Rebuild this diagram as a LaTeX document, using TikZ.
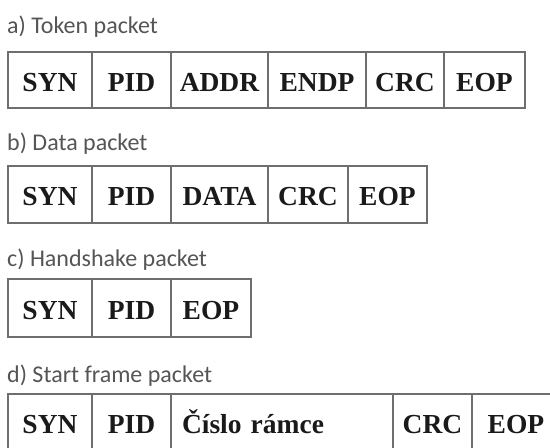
\documentclass[tikz,border=0pt]{standalone}
\usepackage{fontspec}
\setmainfont{Liberation Serif}
\newfontfamily\titlefont{Carlito}
\definecolor{boxline}{HTML}{6E6E6E}
\definecolor{titlegray}{HTML}{555555}
\definecolor{celltext}{HTML}{1A1A1A}
\tikzset{
  cell/.style={draw=boxline, line width=1.3pt, rectangle, inner sep=0pt, outer sep=0pt,
    anchor=north west, text=celltext, font=\fontsize{27.5}{31}\selectfont\bfseries,
    text height=22pt, text depth=0pt},
  ptitle/.style={anchor=base west, inner sep=0pt, text=titlegray, font=\titlefont\fontsize{24}{28}\selectfont}
}
\begin{document}
\begin{tikzpicture}[x=1pt,y=-1pt]
\useasboundingbox (0,0) rectangle (550,448);
\clip (0,0) rectangle (550,448);
% a) Token packet
\node[ptitle] (ta) at (7,33) {a) Token packet};
\node[cell, minimum width=84pt, minimum height=56pt] (a1) at (8,52) {SYN};
\node[cell, minimum width=79pt, minimum height=56pt] (a2) at (92,52) {PID};
\node[cell, minimum width=97pt, minimum height=56pt] (a3) at (171,52) {ADDR};
\node[cell, minimum width=98pt, minimum height=56pt] (a4) at (268,52) {ENDP};
\node[cell, minimum width=78pt, minimum height=56pt] (a5) at (366,52) {CRC};
\node[cell, minimum width=81pt, minimum height=56pt] (a6) at (444,52) {EOP};
% b) Data packet
\node[ptitle] (tb) at (7,150) {b) Data packet};
\node[cell, minimum width=84pt, minimum height=57pt] (b1) at (8,166) {SYN};
\node[cell, minimum width=79pt, minimum height=57pt] (b2) at (92,166) {PID};
\node[cell, minimum width=97pt, minimum height=57pt] (b3) at (171,166) {DATA};
\node[cell, minimum width=80pt, minimum height=57pt] (b4) at (268,166) {CRC};
\node[cell, minimum width=79pt, minimum height=57pt] (b5) at (348,166) {EOP};
% c) Handshake packet
\node[ptitle] (tc) at (7,266) {c) Handshake packet};
\node[cell, minimum width=84pt, minimum height=58pt] (c1) at (8,279) {SYN};
\node[cell, minimum width=79pt, minimum height=58pt] (c2) at (92,279) {PID};
\node[cell, minimum width=80pt, minimum height=58pt] (c3) at (171,279) {EOP};
% d) Start frame packet
\node[ptitle] (td) at (7,382) {d) Start frame packet};
\node[cell, minimum width=84pt, minimum height=57pt] (d1) at (8,394) {SYN};
\node[cell, minimum width=79pt, minimum height=57pt] (d2) at (92,394) {PID};
\node[cell, minimum width=222pt, minimum height=57pt, text width=200pt, align=left] (d3) at (171,394) {Číslo rámce};
\node[cell, minimum width=79pt, minimum height=57pt] (d4) at (393,394) {CRC};
\node[cell, minimum width=88pt, minimum height=57pt] (d5) at (472,394) {EOP};
\end{tikzpicture}
\end{document}
